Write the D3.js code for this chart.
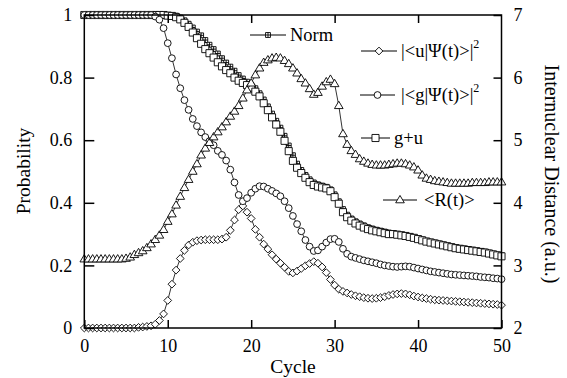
<!DOCTYPE html>
<html>
<head>
<meta charset="utf-8">
<script src="https://cdn.jsdelivr.net/npm/d3@7"></script>
<style>
  body { margin: 0; background: #fff; }
  svg { display: block; }
  text { font-family: "Liberation Serif", "Times New Roman", serif; fill: #000; }
</style>
</head>
<body>
<svg id="chart" width="567" height="378"></svg>
<script>
// Sample times (cycles), one sample every half cycle
const cycles = d3.range(0, 50.01, 0.5);

// |<g|Psi(t)>|^2
const gPop = [
  1, 1, 1, 1, 1, 1, 1, 1, 1, 1, 1, 1, 1, 1, 1, 1, 1,
  0.995, 0.985, 0.958, 0.91, 0.862, 0.81, 0.766, 0.728, 0.697, 0.668, 0.645, 0.625, 0.61, 0.597,
  0.584, 0.566, 0.553, 0.535, 0.506, 0.465, 0.425, 0.405, 0.415, 0.432, 0.445, 0.453, 0.452, 0.445,
  0.438, 0.43, 0.421, 0.405, 0.383, 0.358, 0.332, 0.309, 0.281, 0.26, 0.246, 0.248, 0.26, 0.273,
  0.284, 0.285, 0.275, 0.253, 0.237, 0.228, 0.224, 0.22, 0.216, 0.213, 0.21, 0.207, 0.203, 0.2,
  0.198, 0.196, 0.195, 0.196, 0.197, 0.196, 0.193, 0.19, 0.187, 0.184, 0.181, 0.179, 0.177, 0.175,
  0.173, 0.171, 0.17, 0.169, 0.168, 0.167, 0.166, 0.165, 0.163, 0.162, 0.161, 0.159, 0.158, 0.156
];

// |<u|Psi(t)>|^2
const uPop = [
  0, 0, 0, 0, 0, 0, 0, 0, 0, 0, 0, 0, 0,
  0.002, 0.003, 0.005, 0.007, 0.012, 0.024, 0.045, 0.088, 0.14, 0.185, 0.222, 0.248, 0.265, 0.274,
  0.279, 0.281, 0.282, 0.282, 0.282, 0.282, 0.284, 0.29, 0.312, 0.345, 0.378, 0.39, 0.37, 0.35,
  0.315, 0.29, 0.268, 0.252, 0.234, 0.22, 0.207, 0.194, 0.181, 0.176, 0.182, 0.19, 0.199, 0.206,
  0.212, 0.207, 0.195, 0.177, 0.155, 0.137, 0.124, 0.117, 0.112, 0.107, 0.103, 0.1, 0.097, 0.095,
  0.094, 0.095, 0.097, 0.1, 0.104, 0.107, 0.109, 0.11, 0.109, 0.106, 0.102, 0.099, 0.096, 0.094,
  0.092, 0.09, 0.089, 0.088, 0.087, 0.086, 0.085, 0.084, 0.083, 0.082, 0.081, 0.08, 0.079, 0.078,
  0.077, 0.076, 0.075, 0.073
];

// g+u
const guPop = [
  1, 1, 1, 1, 1, 1, 1, 1, 1, 1, 1, 1, 1, 1, 1, 1, 1, 1, 1, 1,
  0.998, 0.997, 0.993, 0.986, 0.975, 0.962, 0.944, 0.926, 0.908, 0.891, 0.878, 0.864, 0.849, 0.836,
  0.824, 0.814, 0.8, 0.79, 0.783, 0.776, 0.768, 0.755, 0.74, 0.718, 0.696, 0.673, 0.65, 0.627,
  0.598, 0.565, 0.534, 0.512, 0.495, 0.48, 0.466, 0.457, 0.452, 0.449, 0.446, 0.437, 0.418, 0.397,
  0.37, 0.354, 0.343, 0.334, 0.327, 0.321, 0.316, 0.312, 0.309, 0.306, 0.303, 0.3, 0.3, 0.298,
  0.296, 0.294, 0.291, 0.288, 0.284, 0.28, 0.276, 0.273, 0.27, 0.267, 0.264, 0.261, 0.258, 0.255,
  0.253, 0.251, 0.249, 0.247, 0.245, 0.243, 0.241, 0.238, 0.235, 0.232, 0.229
];

// Norm
const normPop = [
  1, 1, 1, 1, 1, 1, 1, 1, 1, 1, 1, 1, 1, 1, 1, 1, 1, 1, 1, 1, 1, 1,
  0.998, 0.992, 0.983, 0.972, 0.96, 0.947, 0.935, 0.92, 0.905, 0.891, 0.877, 0.862, 0.848, 0.835,
  0.822, 0.808, 0.797, 0.787, 0.777, 0.766, 0.75, 0.73, 0.708, 0.685, 0.662, 0.64, 0.614, 0.583,
  0.552, 0.525, 0.505, 0.489, 0.475, 0.465, 0.459, 0.455, 0.451, 0.443, 0.427, 0.405, 0.38, 0.362,
  0.35, 0.341, 0.334, 0.328, 0.322, 0.318, 0.314, 0.311, 0.308, 0.305, 0.303, 0.301, 0.299, 0.297,
  0.294, 0.291, 0.287, 0.283, 0.279, 0.276, 0.273, 0.27, 0.267, 0.264, 0.261, 0.258, 0.256, 0.254,
  0.252, 0.25, 0.248, 0.246, 0.244, 0.241, 0.238, 0.235, 0.232
];

// <R(t)> in a.u. (right axis)
const meanR = [
  3.1, 3.1, 3.1, 3.1, 3.1, 3.1, 3.1, 3.1, 3.1, 3.1, 3.11,
  3.13, 3.17, 3.2, 3.23, 3.28, 3.34, 3.41, 3.48, 3.57, 3.7, 3.82, 3.96, 4.1, 4.24, 4.37, 4.5,
  4.62, 4.76, 4.87, 4.96, 5.05, 5.13, 5.21, 5.29, 5.38, 5.46, 5.55, 5.67, 5.8, 5.91, 6.04, 6.15,
  6.24, 6.28, 6.31, 6.32, 6.31, 6.27, 6.22, 6.15, 6.07, 5.98, 5.91, 5.82, 5.73, 5.76, 5.86, 5.93,
  5.97, 5.9, 5.55, 5.1, 4.93, 4.83, 4.77, 4.7, 4.66, 4.63, 4.61, 4.6, 4.6, 4.6, 4.61, 4.62, 4.63,
  4.63, 4.62, 4.6, 4.57, 4.52, 4.44, 4.39, 4.37, 4.35, 4.34, 4.33, 4.32, 4.31, 4.31, 4.31, 4.31,
  4.31, 4.32, 4.32, 4.32, 4.32, 4.33, 4.33, 4.33, 4.33
];

// Axis ticks and labels
const xTicks = [0, 10, 20, 30, 40, 50];
const probTicks = [0, 0.2, 0.4, 0.6, 0.8, 1];
const probTickLabels = ["0", "0.2", "0.4", "0.6", "0.8", "1"];
const distTicks = [2, 3, 4, 5, 6, 7];

const svg = d3.select("#chart");
const plot = { left: 84.3, right: 501.5, top: 15, bottom: 328 };
const serif = "Liberation Serif, Times New Roman, serif";

const x = d3.scaleLinear().domain([0, 50]).range([plot.left, plot.right]);
const y = d3.scaleLinear().domain([0, 1]).range([plot.bottom, plot.top]);
const yR = d3.scaleLinear().domain([2, 7]).range([plot.bottom, plot.top]);

// Open marker shapes
const symCircle = { draw(c, s) { const r = Math.sqrt(s / Math.PI); c.moveTo(r, 0); c.arc(0, 0, r, 0, 2 * Math.PI); } };
const symDiamond = { draw(c, s) { const r = Math.sqrt(s / 2); c.moveTo(0, -r); c.lineTo(r, 0); c.lineTo(0, r); c.lineTo(-r, 0); c.closePath(); } };
const symSquare = { draw(c, s) { const h = Math.sqrt(s) / 2; c.rect(-h, -h, 2 * h, 2 * h); } };
const symBoxPlus = { draw(c, s) { const h = Math.sqrt(s) / 2; c.rect(-h, -h, 2 * h, 2 * h); c.moveTo(0, -h); c.lineTo(0, h); c.moveTo(-h, 0); c.lineTo(h, 0); } };
const symTriangle = { draw(c, s) { const w = Math.sqrt(s * 2.2); const h = w * 0.85; c.moveTo(0, -h * 0.62); c.lineTo(w / 2, h * 0.38); c.lineTo(-w / 2, h * 0.38); c.closePath(); } };

const series = [
  { values: normPop, scale: y, sym: symBoxPlus, size: 24, label: "Norm" },
  { values: guPop, scale: y, sym: symSquare, size: 50, label: "g+u" },
  { values: uPop, scale: y, sym: symDiamond, size: 30, label: "|<u|Ψ(t)>|" },
  { values: gPop, scale: y, sym: symCircle, size: 36, label: "|<g|Ψ(t)>|" },
  { values: meanR, scale: yR, sym: symTriangle, size: 34, label: "<R(t)>" }
];

const line = d3.line();
series.forEach(s => {
  const pts = s.values.map((v, i) => [x(cycles[i]), s.scale(v)]);
  svg.append("path")
    .attr("d", line(pts))
    .attr("fill", "none").attr("stroke", "#000").attr("stroke-width", 0.8);
  svg.append("g").selectAll("path").data(pts).join("path")
    .attr("transform", d => `translate(${d[0]},${d[1]})`)
    .attr("d", d3.symbol().type(s.sym).size(s.size))
    .attr("fill", "#fff").attr("stroke", "#000").attr("stroke-width", 0.9);
});

// Frame and axes
svg.append("rect")
  .attr("x", plot.left).attr("y", plot.top)
  .attr("width", plot.right - plot.left).attr("height", plot.bottom - plot.top)
  .attr("fill", "none").attr("stroke", "#000").attr("stroke-width", 1.5);

function styleAxis(g) {
  g.attr("font-family", serif).attr("font-size", 18);
  g.select(".domain").remove();
  g.selectAll(".tick line").attr("stroke", "#000").attr("stroke-width", 1.5);
  g.selectAll(".tick text").attr("fill", "#000");
}

svg.append("g").attr("transform", `translate(0,${plot.bottom})`)
  .call(d3.axisBottom(x).tickValues(xTicks).tickSizeInner(-8).tickSizeOuter(0).tickPadding(11).tickFormat(d3.format("d")))
  .call(styleAxis);
svg.append("g").attr("transform", `translate(0,${plot.top})`)
  .call(d3.axisTop(x).tickValues(xTicks.slice(1, -1)).tickSizeInner(-8).tickSizeOuter(0).tickFormat(""))
  .call(styleAxis);
svg.append("g").attr("transform", `translate(${plot.left},0)`)
  .call(d3.axisLeft(y).tickValues(probTicks).tickSizeInner(-10).tickSizeOuter(0).tickPadding(12)
    .tickFormat((d, i) => probTickLabels[i]))
  .call(styleAxis);
svg.append("g").attr("transform", `translate(${plot.right},0)`)
  .call(d3.axisRight(yR).tickValues(distTicks).tickSizeInner(-8).tickSizeOuter(0).tickPadding(12).tickFormat(d3.format("d")))
  .call(styleAxis);

// Axis titles
svg.append("text").attr("x", 293).attr("y", 373).attr("text-anchor", "middle").attr("font-size", 19.5).text("Cycle");
svg.append("text").attr("transform", "translate(23,171) rotate(-90)").attr("text-anchor", "middle")
  .attr("dy", "0.35em").attr("font-size", 19.5).text("Probability");
svg.append("text").attr("transform", "translate(552,174) rotate(90)").attr("text-anchor", "middle")
  .attr("dy", "0.35em").attr("font-size", 20).text("Internuclear Distance (a.u.)");

// Legend
const legendItems = [
  { s: series[0], x1: 250, x2: 286, y: 35, tx: 290, sup: false },
  { s: series[2], x1: 361, x2: 397, y: 51, tx: 401, sup: true },
  { s: series[3], x1: 360, x2: 395, y: 95, tx: 401, sup: true },
  { s: series[1], x1: 361, x2: 390, y: 138, tx: 394, sup: false },
  { s: series[4], x1: 383, x2: 417, y: 200, tx: 424, sup: false }
];
const lg = svg.append("g");
legendItems.forEach(it => {
  lg.append("line").attr("x1", it.x1).attr("x2", it.x2).attr("y1", it.y).attr("y2", it.y)
    .attr("stroke", "#000").attr("stroke-width", 1);
  lg.append("path").attr("transform", `translate(${(it.x1 + it.x2) / 2},${it.y})`)
    .attr("d", d3.symbol().type(it.s.sym).size(it.s.size))
    .attr("fill", "#fff").attr("stroke", "#000").attr("stroke-width", 0.9);
  const t = lg.append("text").attr("x", it.tx).attr("y", it.y).attr("dy", "0.35em").attr("font-size", 18.5);
  t.append("tspan").text(it.s.label);
  if (it.sup) t.append("tspan").attr("font-size", 12).attr("dy", "-0.75em").text("2");
});
</script>
</body>
</html>
